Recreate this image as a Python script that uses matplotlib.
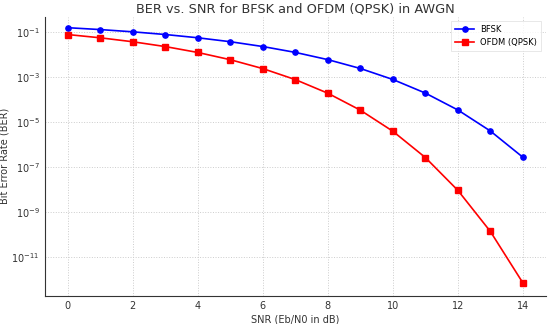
import matplotlib
matplotlib.use("Agg")
import matplotlib.pyplot as plt

snr_db = [0, 1, 2, 3, 4, 5, 6, 7, 8, 9, 10, 11, 12, 13, 14]
ber_bfsk = [0.1587, 0.131, 0.104, 0.0789, 0.0565, 0.0377, 0.0230, 0.0126, 0.0060,
            0.00242, 7.83e-4, 1.94e-4, 3.43e-5, 3.97e-6, 2.69e-7]
ber_ofdm = [0.0786, 0.0563, 0.0375, 0.0229, 0.0125, 0.00595, 0.00239, 7.73e-4, 1.91e-4,
            3.36e-5, 3.87e-6, 2.61e-7, 9.0e-9, 1.33e-10, 6.8e-13]

fig = plt.figure(figsize=(5.5, 3.24), dpi=100)
ax = fig.add_axes([0.082, 0.087, 0.91, 0.862])
ax.semilogy(snr_db, ber_bfsk, color="blue", marker="o", markersize=3.8, linewidth=1.2, label="BFSK")
ax.semilogy(snr_db, ber_ofdm, color="red", marker="s", markersize=3.8, linewidth=1.2, label="OFDM (QPSK)")
ax.set_xlim(-0.7, 14.7)
ax.set_ylim(1.8e-13, 0.5)
ax.set_xticks([0, 2, 4, 6, 8, 10, 12, 14])
ax.set_yticks([1e-1, 1e-3, 1e-5, 1e-7, 1e-9, 1e-11])
ax.minorticks_off()
ax.grid(True, which="major", linestyle=":", color="#cccccc", linewidth=0.7)
for s in ["top", "right"]:
    ax.spines[s].set_visible(False)
for s in ["left", "bottom"]:
    ax.spines[s].set_color("#333333")
ax.tick_params(length=0, labelsize=7, colors="#333333", pad=4)
ax.set_xlabel("SNR (Eb/N0 in dB)", fontsize=7, color="#333333", labelpad=2)
ax.set_ylabel("Bit Error Rate (BER)", fontsize=7, color="#333333", labelpad=1)
ax.set_title("BER vs. SNR for BFSK and OFDM (QPSK) in AWGN", fontsize=9.3, color="#333333", pad=3)
leg = ax.legend(loc="upper right", fontsize=6, frameon=True, fancybox=False, borderpad=0.5, handlelength=2.2)
leg.get_frame().set_edgecolor("#dddddd")
leg.get_frame().set_linewidth(0.6)
fig.savefig("out.png", dpi=100)
